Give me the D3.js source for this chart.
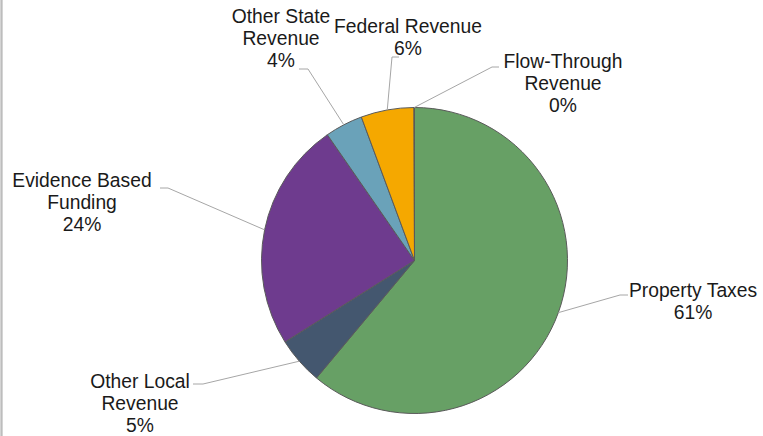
<!DOCTYPE html>
<html>
<head>
<meta charset="utf-8">
<script src="https://cdn.jsdelivr.net/npm/d3@7"></script>
<style>
  body { margin: 0; background: #fff; }
  svg { display: block; }
</style>
</head>
<body>
<svg id="chart" width="763" height="436"></svg>
<script>
// revenue sources, clockwise from 12 o'clock
var categories = [ 'Property Taxes', 'Other Local Revenue', 'Evidence Based Funding',
	'Other State Revenue', 'Federal Revenue', 'Flow-Through Revenue' ];
var shares = [ 61.1, 5.0, 24.3, 4.0, 5.6, 0.05 ];
var pctLabels = [ '61%', '5%', '24%', '4%', '6%', '0%' ];
var nameLines = [
	[ 'Property Taxes' ],
	[ 'Other Local', 'Revenue' ],
	[ 'Evidence Based', 'Funding' ],
	[ 'Other State', 'Revenue' ],
	[ 'Federal Revenue' ],
	[ 'Flow-Through', 'Revenue' ]
];
var colors = [ '#67a065', '#44576f', '#6e3b8e', '#6aa2b9', '#f5a800', '#a9c4d8' ];

// label layout: centre x, first baseline, elbow x/y, end x
var labelLayout = [
	{ x: 693, y: 297, ex: 620, ey: 295, tx: 628 },
	{ x: 140, y: 388, ex: 203, ey: 384, tx: 193 },
	{ x: 82, y: 187, ex: 168, ey: 188, tx: 160 },
	{ x: 281, y: 23, ex: 308, ey: 69, tx: 299 },
	{ x: 408, y: 33, ex: 392, ey: 57, tx: 399 },
	{ x: 563, y: 68, ex: 492, ey: 67, tx: 499 }
];

var cx = 414.5, cy = 260.5, radius = 153;
var lineH = 21.8;

var svg = d3.select( '#chart' );

// left frame edge
svg.append( 'rect' )
	.attr( 'x', 0 ).attr( 'y', 0 )
	.attr( 'width', 3 ).attr( 'height', 436 )
	.attr( 'fill', '#d4d4d4' );
svg.append( 'line' )
	.attr( 'x1', 1.5 ).attr( 'x2', 1.5 )
	.attr( 'y1', 0 ).attr( 'y2', 436 )
	.attr( 'stroke', '#bdbdbd' ).attr( 'stroke-width', 1 );

var pie = d3.pie().sort( null ).value( function( d ) { return d; } );
var arcs = pie( shares );

var arc = d3.arc().innerRadius( 0 ).outerRadius( radius );

var g = svg.append( 'g' )
	.attr( 'transform', 'translate(' + cx + ',' + cy + ')' );

g.selectAll( '.slice' )
	.data( arcs )
	.enter()
	.append( 'path' )
	.attr( 'class', 'slice' )
	.attr( 'd', arc )
	.attr( 'fill', function( d, i ) { return colors[ i ]; } )
	.attr( 'stroke', '#5a5a5a' )
	.attr( 'stroke-width', 1 )
	.attr( 'stroke-linejoin', 'round' );

// leader lines
arcs.forEach( function( d, i ) {
	var a = ( d.startAngle + d.endAngle ) / 2;
	var sx = cx + radius * Math.sin( a );
	var sy = cy - radius * Math.cos( a );
	var L = labelLayout[ i ];
	svg.append( 'polyline' )
		.attr( 'points', [ [ sx, sy ], [ L.ex, L.ey ], [ L.tx, L.ey ] ].join( ' ' ) )
		.attr( 'fill', 'none' )
		.attr( 'stroke', '#a6a6a6' )
		.attr( 'stroke-width', 1 );
} );

// labels
categories.forEach( function( c, i ) {
	var L = labelLayout[ i ];
	var lines = nameLines[ i ].concat( [ pctLabels[ i ] ] );
	var t = svg.append( 'text' )
		.attr( 'x', L.x )
		.attr( 'y', L.y )
		.attr( 'text-anchor', 'middle' )
		.attr( 'font-family', '"Liberation Sans", Arial, sans-serif' )
		.attr( 'font-size', '19.3px' )
		.attr( 'fill', '#1a1a1a' );
	lines.forEach( function( s, j ) {
		t.append( 'tspan' )
			.attr( 'x', L.x )
			.attr( 'y', L.y + j * lineH )
			.text( s );
	} );
} );
</script>
</body>
</html>
